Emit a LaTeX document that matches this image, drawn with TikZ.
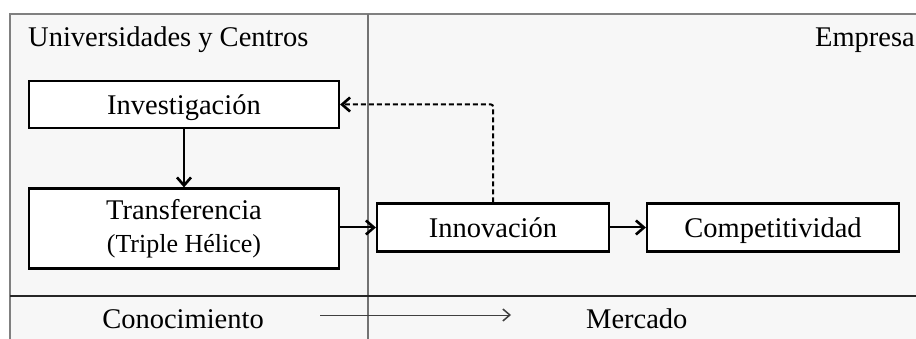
\documentclass[tikz,border=0pt]{standalone}
\usepackage{fontspec}
\setmainfont{Liberation Serif}
\usetikzlibrary{arrows.meta}
\begin{document}
\begin{tikzpicture}[x=1pt,y=-1pt,
  box/.style={draw=black, line width=2.2pt, fill=white, inner sep=0pt},
  lbl/.style={font=\fontsize{28.5}{33}\selectfont, text=black, inner sep=0pt},
  oneline/.style={text height=27pt, text depth=6pt},
  conn/.style={line width=2pt, -{Straight Barb[length=8pt,width=14pt,line width=2.6pt]}},
  thinconn/.style={line width=1pt, draw=black!75, -{Straight Barb[length=7pt,width=12pt,line width=1.5pt]}},
  frameline/.style={draw=black!50, line width=2.5pt},
]
\useasboundingbox (0,0) rectangle (916,339);
\fill[white] (0,0) rectangle (916,339);
\fill[black!3] (10,14) rectangle (940,360);
\draw[frameline] (10,360) -- (10,14) -- (940,14);
\draw[draw=black!55, line width=1.5pt] (368,14) -- (368,360);
\draw[draw=black!85, line width=1.5pt] (10,296) -- (940,296);

\node[lbl, anchor=base west] (uni) at (28,47) {Universidades y Centros};
\node[lbl, anchor=base east] (emp) at (915,47) {Empresa};

\node[box, lbl, oneline, minimum width=310pt, minimum height=47pt] (inv) at (184,104.5) {Investigación};
\node[box, lbl, minimum width=310pt, minimum height=80pt, align=center] (tra) at (184,228.5)
  {Transferencia\\{\fontsize{26}{33}\selectfont (Triple Hélice)}};
\node[box, lbl, oneline, minimum width=232pt, minimum height=48pt] (inn) at (493,227.5) {Innovación};
\node[box, lbl, oneline, minimum width=252pt, minimum height=48pt] (com) at (773,227.5) {Competitividad};

\draw[conn] (inv) -- (tra);
\draw[conn] (tra.east |- inn.west) -- (inn.west);
\draw[conn] (inn) -- (com);
\draw[conn, dash pattern=on 5pt off 3pt, rounded corners=2pt] (inn.north) |- (inv.east);

\node[lbl, anchor=base] (con) at (183,328) {Conocimiento};
\node[lbl, anchor=base west] (mer) at (586,328) {Mercado};
\coordinate (a1) at (320,315);
\coordinate (a2) at (511,315);
\draw[thinconn] (a1) -- (a2);
\end{tikzpicture}
\end{document}
